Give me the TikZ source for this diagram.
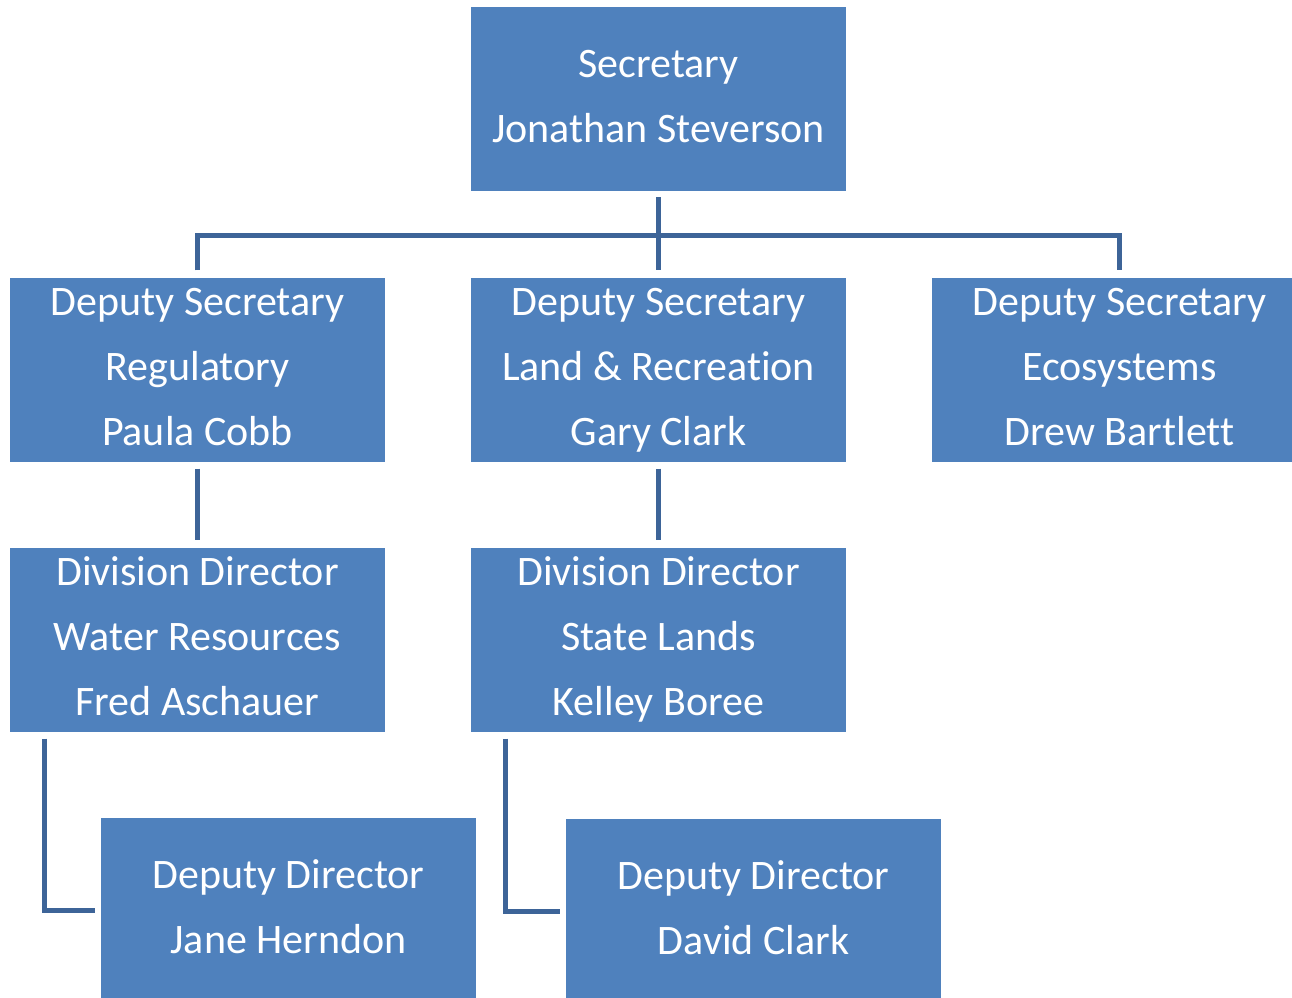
\documentclass[tikz,border=0pt]{standalone}
\usepackage{fontspec}
\setmainfont{Carlito}[Ligatures=NoCommon]
\definecolor{boxblue}{RGB}{79,129,189}
\definecolor{lineblue}{RGB}{61,100,152}
\newcommand\lnst{\rule[-8pt]{0pt}{38pt}}
\tikzset{
  orgbox/.style={fill=boxblue, draw=none, minimum width=375pt, minimum height=184pt,
    inner sep=0pt, align=center, text=white, font=\fontsize{42}{65}\selectfont},
  conn/.style={draw=lineblue, line width=5pt, line cap=butt, line join=miter}
}
\begin{document}
\begin{tikzpicture}[x=1pt,y=-1pt]
\useasboundingbox (0,0) rectangle (1292,997);
\node[orgbox] (sec) at (658.5,99) {\lnst Secretary\\\lnst Jonathan Steverson};
\node[orgbox] (ds1) at (197.5,369.5) {\lnst Deputy Secretary\\\lnst Regulatory\\\lnst Paula Cobb};
\node[orgbox] (ds2) at (658.5,369.5) {\lnst Deputy Secretary\\\lnst Land \& Recreation\\\lnst Gary Clark};
\node[orgbox] (ds3) at (1119.5,369.5) {\lnst Deputy Secretary\\\lnst Ecosystems\\\lnst Drew Bartlett};
\node[orgbox] (dd1) at (197.5,639.5) {\lnst Division Director\\\lnst Water Resources\\\lnst Fred Aschauer};
\node[orgbox] (dd2) at (658.5,639.5) {\lnst Division Director\\\lnst State Lands\\\lnst Kelley Boree};
\node[orgbox] (dep1) at (288.5,910) {\lnst Deputy Director\\\lnst Jane Herndon};
\node[orgbox] (dep2) at (753.5,911) {\lnst Deputy Director\\\lnst David Clark};
\coordinate (bar) at (658.5,235);
\draw[conn, shorten <=6pt, shorten >=7pt] (sec) -- (ds2);
\draw[conn, shorten <=7pt, shorten >=7pt] (ds1.north) |- (bar) -| (ds3.north);
\draw[conn, shorten <=7pt, shorten >=7pt] (ds1) -- (dd1);
\draw[conn, shorten <=7pt, shorten >=7pt] (ds2) -- (dd2);
\draw[conn, shorten <=7pt, shorten >=6pt] ([xshift=35pt]dd1.south west) |- (dep1.west);
\draw[conn, shorten <=7pt, shorten >=6pt] ([xshift=35pt]dd2.south west) |- (dep2.west);
\end{tikzpicture}
\end{document}
